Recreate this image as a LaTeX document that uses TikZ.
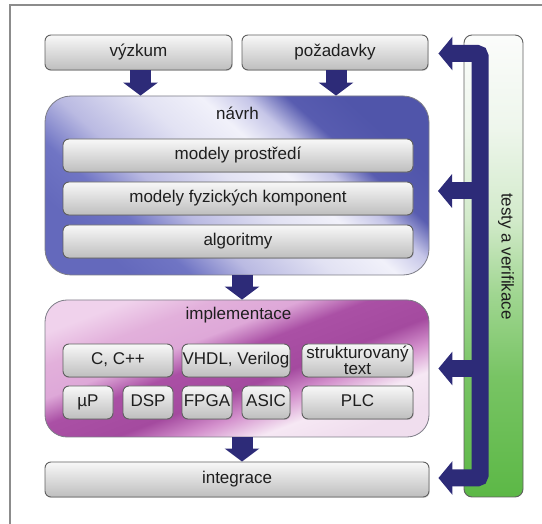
\documentclass[tikz,border=0pt]{standalone}
\usepackage{fontspec}
\setmainfont{Liberation Sans}
\usetikzlibrary{arrows.meta,shadows,calc}

% general colours
\definecolor{navy}{RGB}{45,43,120}
\definecolor{boxtop}{RGB}{248,248,248}
\definecolor{boxbot}{RGB}{190,190,190}
\definecolor{boxedge}{RGB}{95,95,95}
\definecolor{contedge}{RGB}{125,125,135}
\definecolor{ink}{RGB}{30,30,30}
\definecolor{framegray}{RGB}{140,140,140}

% colours of the design block
\definecolor{nb1}{RGB}{100,105,188}
\definecolor{nb2}{RGB}{112,117,196}
\definecolor{nb3}{RGB}{186,186,226}
\definecolor{nb4}{RGB}{226,226,243}
\definecolor{nb5}{RGB}{241,241,250}
\definecolor{nb6}{RGB}{198,198,232}
\definecolor{nb7}{RGB}{88,92,176}
\definecolor{nb8}{RGB}{80,85,170}

% colours of the implementation block
\definecolor{im1}{RGB}{240,210,236}
\definecolor{im2}{RGB}{226,176,219}
\definecolor{im3}{RGB}{222,168,216}
\definecolor{im4}{RGB}{170,80,165}
\definecolor{im5}{RGB}{164,74,159}
\definecolor{im6}{RGB}{212,145,205}
\definecolor{im7}{RGB}{246,232,244}
\definecolor{im8}{RGB}{240,222,238}

% colours of the test bar
\definecolor{gr1}{RGB}{92,184,70}
\definecolor{gr2}{RGB}{120,196,100}
\definecolor{gr3}{RGB}{160,214,145}
\definecolor{gr4}{RGB}{210,234,202}
\definecolor{gr5}{RGB}{238,246,236}
\definecolor{gr6}{RGB}{251,252,251}

% shadings: 25bp..75bp spans the filled shape along the shading direction
\pgfdeclarehorizontalshading{navrhshade}{100bp}{%
  color(0bp)=(nb1); color(25bp)=(nb1); color(32.5bp)=(nb2);
  color(40bp)=(nb3); color(50bp)=(nb4); color(57.5bp)=(nb5);
  color(63bp)=(nb6); color(68bp)=(nb7); color(75bp)=(nb8);
  color(100bp)=(nb8)}

\pgfdeclarehorizontalshading{implshade}{100bp}{%
  color(0bp)=(im1); color(25bp)=(im1); color(32.5bp)=(im2);
  color(40bp)=(im3); color(46bp)=(im4); color(55bp)=(im5);
  color(61bp)=(im6); color(67.5bp)=(im7); color(75bp)=(im8);
  color(100bp)=(im8)}

\pgfdeclareverticalshading{greenshade}{100bp}{%
  color(0bp)=(gr1); color(25bp)=(gr1); color(38bp)=(gr2);
  color(47bp)=(gr3); color(55bp)=(gr4); color(65bp)=(gr5);
  color(75bp)=(gr6); color(100bp)=(gr6)}

\begin{document}
\begin{tikzpicture}[x=1pt,y=-1pt,
  every node/.style={text=ink, font=\fontsize{17}{20}\selectfont, inner sep=0pt},
  graybox/.style={draw=boxedge, line width=0.9pt, rounded corners=6pt,
    top color=boxtop, bottom color=boxbot,
    drop shadow={shadow xshift=0.7pt, shadow yshift=-0.9pt, opacity=0.3}},
  oneline/.style={text height=12.3pt, text depth=3.5pt},
  container/.style={draw=contedge, line width=0.8pt, shade},
  downarrow/.style={draw=navy, line width=21pt,
    -{Triangle[width=34pt,length=13pt]}},
  busline/.style={draw=navy, line width=17pt},
  bustip/.tip={Triangle[width=33pt,length=14pt]}]

\useasboundingbox (0,0) rectangle (542,524);

% frame
\draw[framegray, line width=1.4pt] (10,524) -- (10,5) -- (542,5);

% inputs
\node[graybox, oneline, minimum width=187pt, minimum height=35pt] (vyzkum) at (138.5,52.5) {výzkum};
\node[graybox, oneline, minimum width=186pt, minimum height=35pt] (pozadavky) at (335,52.5) {požadavky};

% design block
\node[container, rounded corners=26pt, shading=navrhshade, shading angle=48,
  minimum width=384pt, minimum height=179pt] (navrh) at (237,185.5) {};
\node[anchor=base] (navrhlbl) at (237.5,120) {návrh};
\node[graybox, oneline, minimum width=350pt, minimum height=33pt] (prostredi) at (238,155.5) {modely prostředí};
\node[graybox, oneline, minimum width=350pt, minimum height=33pt] (komponenty) at (238,198.5) {modely fyzických komponent};
\node[graybox, oneline, minimum width=350pt, minimum height=33pt] (algoritmy) at (238,241.5) {algoritmy};

% implementation block
\node[container, rounded corners=22pt, shading=implshade, shading angle=-69,
  minimum width=384pt, minimum height=137pt] (impl) at (237,368.5) {};
\node[anchor=base] (impllbl) at (238.5,319.5) {implementace};
\node[graybox, oneline, minimum width=110pt, minimum height=33pt] (cpp) at (118,360.5) {C, C++};
\node[graybox, oneline, minimum width=108pt, minimum height=33pt] (vhdl) at (236,360.5) {VHDL, Verilog};
\node[graybox, align=center, font=\fontsize{17}{14.5}\selectfont,
  minimum width=111pt, minimum height=33pt] (st) at (357.5,360.5) {strukturovaný\\text};
\node[graybox, oneline, minimum width=50pt, minimum height=33pt] (up) at (88,402.5) {µP};
\node[graybox, oneline, minimum width=50pt, minimum height=33pt] (dsp) at (148,402.5) {DSP};
\node[graybox, oneline, minimum width=50pt, minimum height=33pt] (fpga) at (207,402.5) {FPGA};
\node[graybox, oneline, minimum width=48pt, minimum height=33pt] (asic) at (266,402.5) {ASIC};
\node[graybox, oneline, minimum width=111pt, minimum height=33pt] (plc) at (357.5,402.5) {PLC};

% integration
\node[graybox, oneline, minimum width=384pt, minimum height=35pt] (integrace) at (237,479.5) {integrace};

% tests and verification
\node[draw=boxedge, line width=0.9pt, rounded corners=8pt, shade, shading=greenshade,
  minimum width=59pt, minimum height=462pt] (testy) at (493.5,266) {};
\node[rotate=-90] (testylbl) at (506,256.5) {testy a verifikace};

% flow arrows
\draw[downarrow] ([xshift=2pt]vyzkum.south) -- ([xshift=2pt]vyzkum.south |- navrh.north);
\draw[downarrow] ([xshift=1pt]pozadavky.south) -- ([xshift=1pt]pozadavky.south |- navrh.north);
\draw[downarrow] ([xshift=5pt]navrh.south) -- ([xshift=5pt]navrh.south |- impl.north);
\draw[downarrow] ([xshift=5pt]impl.south) -- ([xshift=5pt]impl.south |- integrace.north);

% feedback bus
\coordinate (busx) at (480,0);
\coordinate (fbnavrh) at (438,191);
\draw[busline, bustip-bustip, rounded corners=3pt]
  ($(pozadavky.east)+(10,1)$) -- (busx |- {$(pozadavky.east)+(0,1)$})
  -- (busx |- {$(integrace.east)+(0,-1.5)$}) -- ($(integrace.east)+(9,-1.5)$);
\draw[busline, -bustip] (busx |- fbnavrh) -- (fbnavrh);
\draw[busline, -bustip] (busx |- impl.east) -- ($(impl.east)+(9,0)$);
\end{tikzpicture}
\end{document}
